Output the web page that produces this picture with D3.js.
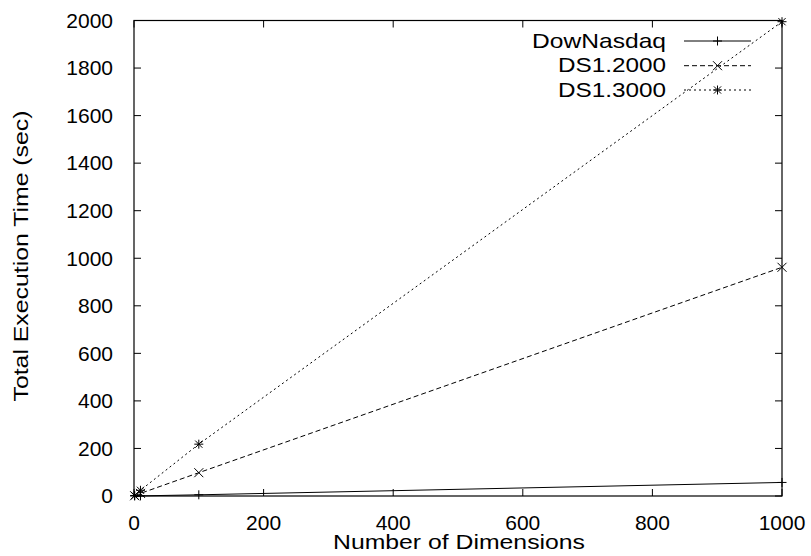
<!DOCTYPE html>
<html><head><meta charset="utf-8">
<script src="https://cdn.jsdelivr.net/npm/d3@7"></script>
<style>body{margin:0;background:#fff}svg{display:block}text{font-family:"Liberation Sans",Arial,sans-serif;fill:#000}</style>
</head><body><svg id="c" width="811" height="556"></svg>
<script>
const dims = [1, 10, 100, 1000];
const seriesNames = ["DowNasdaq", "DS1.2000", "DS1.3000"];
const dowNasdaq = [0, 0.5, 5, 57];
const ds12000 = [1, 11, 98, 962];
const ds13000 = [2, 24, 218, 1995];
const xTicks = [0, 200, 400, 600, 800, 1000];
const yTicks = [0, 200, 400, 600, 800, 1000, 1200, 1400, 1600, 1800, 2000];

const svg = d3.select("#c");
const L = 134, R = 782, T = 20.5, B = 496;
const x = d3.scaleLinear().domain([0, 1000]).range([L, R]);
const y = d3.scaleLinear().domain([0, 2000]).range([B, T]);
const tl = 7;
const fs = 21;

// ticks
const g = svg.append("g").attr("stroke", "#000").attr("stroke-width", 1);
yTicks.forEach(v => {
  g.append("line").attr("x1", L).attr("x2", L + tl).attr("y1", y(v)).attr("y2", y(v));
  g.append("line").attr("x1", R).attr("x2", R - tl).attr("y1", y(v)).attr("y2", y(v));
});
xTicks.forEach(v => {
  g.append("line").attr("x1", x(v)).attr("x2", x(v)).attr("y1", B).attr("y2", B - tl);
  g.append("line").attr("x1", x(v)).attr("x2", x(v)).attr("y1", T).attr("y2", T + tl);
});
yTicks.forEach(v => svg.append("text").attr("x", 113).attr("y", y(v) + 7.3)
  .attr("text-anchor", "end").attr("font-size", fs).text(v));
xTicks.forEach(v => svg.append("text").attr("x", x(v)).attr("y", 530)
  .attr("text-anchor", "middle").attr("font-size", fs).text(v));

svg.append("text").attr("x", 459).attr("y", 549).attr("text-anchor", "middle")
  .attr("font-size", fs).attr("textLength", 252).attr("lengthAdjust", "spacingAndGlyphs")
  .text("Number of Dimensions");
svg.append("text").attr("transform", "translate(27.5,256) rotate(-90)").attr("text-anchor", "middle")
  .attr("font-size", fs).attr("textLength", 291).attr("lengthAdjust", "spacingAndGlyphs")
  .text("Total Execution Time (sec)");

const series = [
  {name: seriesNames[0], vals: dowNasdaq, dash: null, mark: "plus", w: 134},
  {name: seriesNames[1], vals: ds12000, dash: "5,3", mark: "cross", w: 108},
  {name: seriesNames[2], vals: ds13000, dash: "2,3", mark: "star", w: 108}
];
const line = d3.line().x(d => x(d[0])).y(d => y(d[1]));
function marker(sel, cx, cy, type) {
  const s = 4.5;
  const gm = sel.append("g").attr("stroke", "#000").attr("stroke-width", 1);
  if (type === "plus" || type === "star") {
    gm.append("line").attr("x1", cx - s).attr("x2", cx + s).attr("y1", cy).attr("y2", cy);
    gm.append("line").attr("x1", cx).attr("x2", cx).attr("y1", cy - s).attr("y2", cy + s);
  }
  if (type === "cross" || type === "star") {
    const c = type === "star" ? s * 0.8 : s;
    gm.append("line").attr("x1", cx - c).attr("x2", cx + c).attr("y1", cy - c).attr("y2", cy + c);
    gm.append("line").attr("x1", cx - c).attr("x2", cx + c).attr("y1", cy + c).attr("y2", cy - c);
  }
}
const legY = [41, 65.7, 90];
series.forEach((s, i) => {
  const pts = dims.map((d, j) => [d, s.vals[j]]);
  svg.append("path").attr("d", line(pts)).attr("fill", "none").attr("stroke", "#000")
    .attr("stroke-width", 1).attr("stroke-dasharray", s.dash);
  pts.forEach(p => marker(svg, x(p[0]), y(p[1]), s.mark));
  svg.append("text").attr("x", 666).attr("y", legY[i] + 6.5).attr("text-anchor", "end")
    .attr("font-size", fs).attr("textLength", s.w).attr("lengthAdjust", "spacingAndGlyphs").text(s.name);
  svg.append("line").attr("x1", 684).attr("x2", 751).attr("y1", legY[i]).attr("y2", legY[i])
    .attr("stroke", "#000").attr("stroke-dasharray", s.dash);
  marker(svg, 717.5, legY[i], s.mark);
});

svg.append("rect").attr("x", L).attr("y", T).attr("width", R - L).attr("height", B - T)
  .attr("fill", "none").attr("stroke", "#000").attr("stroke-width", 1.2);
</script></body></html>
